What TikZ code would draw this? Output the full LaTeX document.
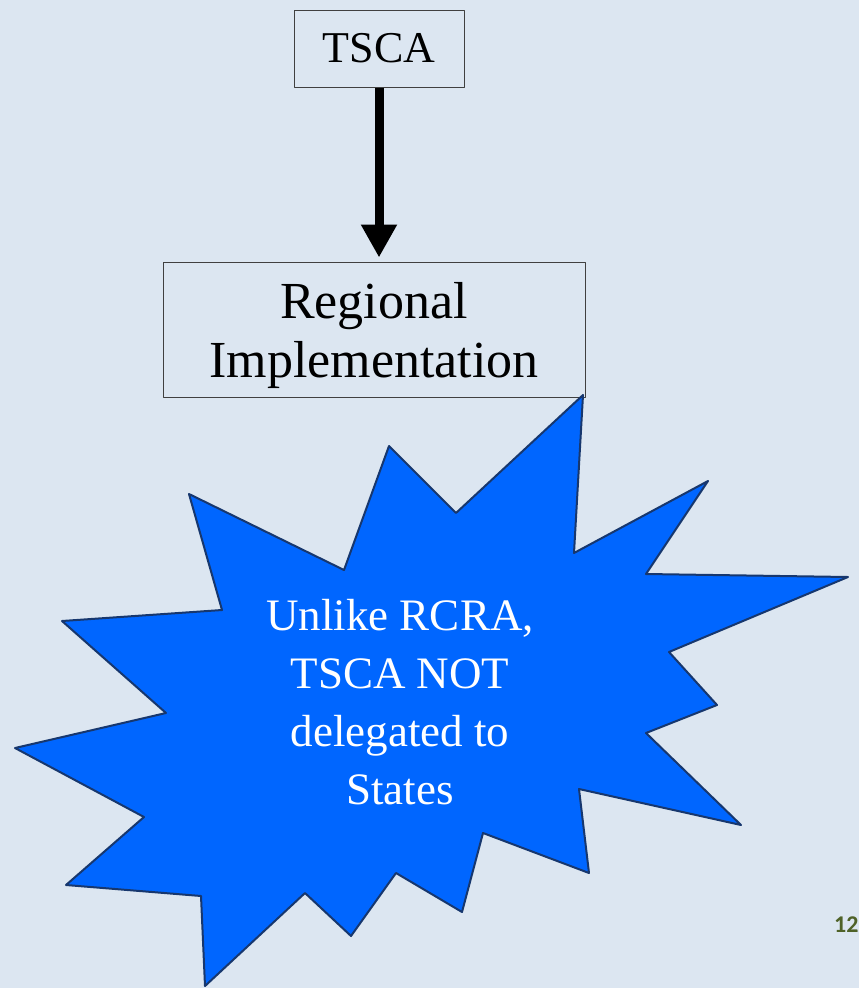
\documentclass[tikz,border=0pt]{standalone}
\usepackage{fontspec}
\setmainfont{Liberation Serif}
\newfontfamily\pagenumfont{Carlito}
\usetikzlibrary{arrows.meta}
\definecolor{slidebg}{RGB}{220,230,241}
\definecolor{burstblue}{RGB}{0,102,255}
\definecolor{burstline}{RGB}{23,55,110}
\definecolor{pagegreen}{RGB}{79,98,40}

\begin{document}
\begin{tikzpicture}[x=1pt, y=-1pt, line join=round,
    box/.style={draw=black!75, line width=1pt, inner sep=0pt, align=center},
    flow/.style={line width=9pt, -{Triangle[length=33pt,width=34pt]}},
    burst/.style={fill=burstblue, draw=burstline, line width=2pt}]
  \fill[slidebg] (0,0) rectangle (859,988);
  \useasboundingbox (0,0) rectangle (859,988);
  \node[box, minimum width=170pt, minimum height=77pt, font=\fontsize{44}{50}\selectfont] (tsca) at (379,48.5) {TSCA};
  \node[box, minimum width=422pt, minimum height=135pt] (region) at (374,329.5) {};
  \node[align=center, inner sep=0pt, font=\fontsize{52}{59}\selectfont] (regiontext) at (region.center) [yshift=-5.5pt] {Regional\\Implementation};
  \draw[flow, shorten >=4pt] (tsca.south) -- (tsca.south |- region.north);
  % starburst
  \draw[burst] (583,395) -- (574,553) -- (708,481) -- (646,574) -- (848,577)
    -- (669,652) -- (717,705) -- (646,733) -- (741,825) -- (579,789)
    -- (589,873) -- (483,833) -- (462,912) -- (396,873) -- (351,936)
    -- (305,893) -- (205,986) -- (201,896) -- (66,885) -- (144,817)
    -- (15,748) -- (166,713) -- (62,621) -- (222,610) -- (189,494)
    -- (344,570) -- (389,446) -- (456,513) -- cycle;
  \node[text=white, align=center, inner sep=0pt, font=\fontsize{45}{58}\selectfont] (note) at (400,702) {Unlike RCRA,\\TSCA NOT\\delegated to\\States};
  \node[anchor=base west, inner sep=0pt, text=pagegreen, font=\pagenumfont\bfseries\fontsize{24}{28}\selectfont] (pagenum) at (834,932) {12};
\end{tikzpicture}
\end{document}
